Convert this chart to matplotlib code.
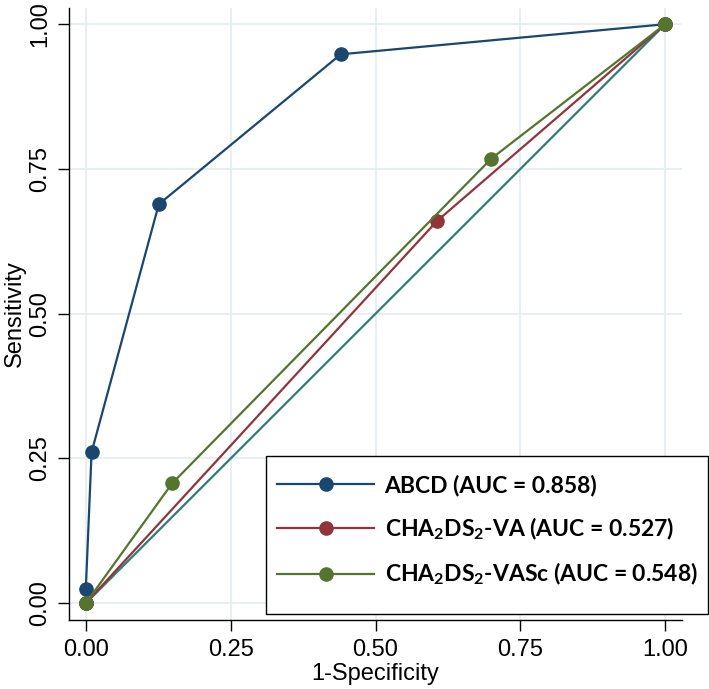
import matplotlib
matplotlib.use('Agg')
import matplotlib.pyplot as plt
from matplotlib.path import Path

# ROC points (1-specificity, sensitivity)
abcd_x = [0.0, 0.0, 0.010, 0.126, 0.440, 1.0]
abcd_y = [0.0, 0.024, 0.261, 0.689, 0.948, 1.0]

va_x = [0.0, 0.606, 1.0]
va_y = [0.0, 0.660, 1.0]

vasc_x = [0.0, 0.149, 0.700, 1.0]
vasc_y = [0.0, 0.207, 0.768, 1.0]

ref_x = [0.0, 1.0]
ref_y = [0.0, 1.0]

labels = ['ABCD (AUC = 0.858)',
          r'CHA$_2$DS$_2$-VA (AUC = 0.527)',
          r'CHA$_2$DS$_2$-VASc (AUC = 0.548)']
ticks = [0.0, 0.25, 0.5, 0.75, 1.0]
tick_labels = ['0.00', '0.25', '0.50', '0.75', '1.00']

plt.rcParams['font.family'] = ['Liberation Sans', 'DejaVu Sans']
plt.rcParams['mathtext.fontset'] = 'custom'
plt.rcParams['mathtext.rm'] = 'Lato:bold'
plt.rcParams['mathtext.default'] = 'rm'

fig = plt.figure(figsize=(7.09, 6.89), dpi=100)
ax = fig.add_axes([0.0973, 0.1001, 0.8647, 0.8883])

navy = '#1a476f'
maroon = '#90353b'
green = '#55752f'
teal = '#2f7c78'

ax.plot(ref_x, ref_y, color=teal, lw=1.6, zorder=2)
ax.plot(abcd_x, abcd_y, color=navy, lw=1.6, marker='o', ms=9.5, label=labels[0], zorder=3)
ax.plot(va_x, va_y, color=maroon, lw=1.6, marker='o', ms=9.5, label=labels[1], zorder=3)
ax.plot(vasc_x, vasc_y, color=green, lw=1.6, marker='o', ms=9.5, label=labels[2], zorder=3)

ax.set_xlim(-0.029, 1.029)
ax.set_ylim(-0.029, 1.028)
ax.set_xticks(ticks)
ax.set_xticklabels(tick_labels)
ax.set_yticks(ticks)
ax.set_yticklabels(tick_labels, rotation=90, va='center')
ax.tick_params(direction='out', length=8, width=1, pad=6, labelsize=17, colors='black')
ax.tick_params(axis='y', pad=5)
ax.grid(True, color='#e6eef1', lw=1.3, zorder=0)
ax.set_axisbelow(True)

for s in ['top', 'right']:
    ax.spines[s].set_visible(False)
for s in ['left', 'bottom']:
    ax.spines[s].set_linewidth(1.0)

ax.set_xlabel('1-Specificity', fontsize=17, labelpad=1)
ax.set_ylabel('Sensitivity', fontsize=17, labelpad=2)

# legend frame has more room above/below than at the sides
EXTRA_TOP = 8
EXTRA_BOTTOM = 16


def tall_box(x0, y0, width, height, mutation_size):
    y_lo = y0 - EXTRA_BOTTOM
    y_hi = y0 + height + EXTRA_TOP
    return Path([(x0, y_lo), (x0 + width, y_lo), (x0 + width, y_hi),
                 (x0, y_hi), (x0, y_lo)], closed=True)


leg = ax.legend(loc='lower right',
                bbox_to_anchor=(708 / 709, 1 - (614 - EXTRA_BOTTOM) / 689),
                bbox_transform=fig.transFigure,
                prop={'family': 'Lato', 'weight': 'bold', 'size': 16.5},
                handlelength=4.25, handletextpad=0.45, labelspacing=0.85,
                borderpad=0.46, borderaxespad=0, fancybox=False, framealpha=1,
                edgecolor='black')
leg.get_frame().set_boxstyle(tall_box)
leg.get_frame().set_linewidth(1.0)

fig.savefig('out.png', dpi=100)
